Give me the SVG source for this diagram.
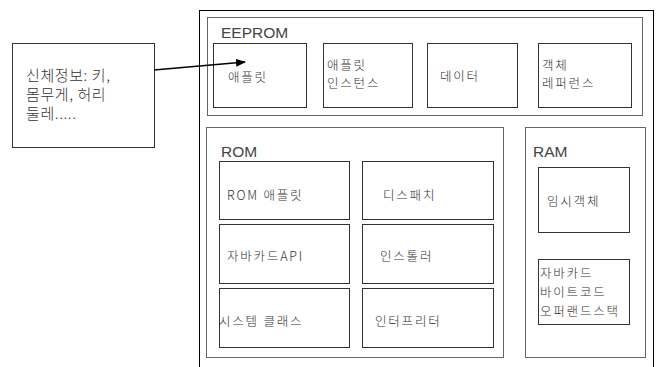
<svg xmlns="http://www.w3.org/2000/svg" width="656" height="367" viewBox="0 0 656 367">
<style>
.sec{fill:#fff;stroke:#666;stroke-width:1}
.box{fill:#fff;stroke:#333;stroke-width:1}
.t{font-family:"Noto Sans CJK KR","Liberation Sans",sans-serif;font-size:12.5px;font-weight:300;letter-spacing:1.8px;fill:#333}
.h{font-family:"Liberation Sans",sans-serif;font-size:15.5px;fill:#444}
.big{font-family:"Noto Sans CJK KR","Liberation Sans",sans-serif;font-size:15px;font-weight:300;letter-spacing:0.6px;fill:#333}
</style>
<defs>
<marker id="ah" markerWidth="10" markerHeight="8" refX="9" refY="4" orient="auto" markerUnits="userSpaceOnUse">
<path d="M0,0 L10,4 L0,8 z" fill="#000"/>
</marker>
</defs>
<rect width="656" height="367" fill="#fff"/>
<g id="outer"><rect x="199.5" y="10.5" width="454" height="370" fill="#fff" stroke="#000"/></g>
<g id="eeprom">
<rect class="sec" x="207.5" y="17.5" width="435" height="98"/>
<text class="h" x="221" y="38">EEPROM</text>
</g>
<g id="applet"><rect class="box" x="213.5" y="43.5" width="93" height="64"/><text class="t" x="228" y="82">애플릿</text></g>
<g id="appinst"><rect class="box" x="323.5" y="43.5" width="89" height="64"/><text class="t" x="327" y="70">애플릿</text><text class="t" x="327" y="88">인스턴스</text></g>
<g id="data"><rect class="box" x="427.5" y="43.5" width="90" height="64"/><text class="t" x="440" y="81">데이터</text></g>
<g id="objref"><rect class="box" x="538.5" y="43.5" width="93" height="64"/><text class="t" x="542" y="70">객체</text><text class="t" x="542" y="88">레퍼런스</text></g>
<g id="rom">
<rect class="sec" x="206.5" y="127.5" width="297" height="230"/>
<text class="h" x="221" y="157">ROM</text>
</g>
<g id="romapplet"><rect class="box" x="219.5" y="161.5" width="130" height="58"/><text class="t" x="227" y="200">ROM 애플릿</text></g>
<g id="dispatch"><rect class="box" x="362.5" y="161.5" width="131" height="58"/><text class="t" x="383" y="200">디스패치</text></g>
<g id="jcapi"><rect class="box" x="219.5" y="224.5" width="130" height="59"/><text class="t" x="227" y="261">자바카드API</text></g>
<g id="installer"><rect class="box" x="362.5" y="224.5" width="131" height="59"/><text class="t" x="380" y="261">인스톨러</text></g>
<g id="sysclass"><rect class="box" x="219.5" y="288.5" width="130" height="59"/><text class="t" x="219" y="326">시스템 클래스</text></g>
<g id="interp"><rect class="box" x="362.5" y="288.5" width="131" height="59"/><text class="t" x="375" y="326">인터프리터</text></g>
<g id="ram">
<rect class="sec" x="525.5" y="127.5" width="120" height="230"/>
<text class="h" x="533" y="157">RAM</text>
</g>
<g id="tempobj"><rect class="box" x="538.5" y="167.5" width="91" height="65"/><text class="t" x="547" y="206">임시객체</text></g>
<g id="stack"><rect class="box" x="538.5" y="259.5" width="91" height="65"/><text class="t" x="540" y="278">자바카드</text><text class="t" x="540" y="297">바이트코드</text><text class="t" x="540" y="316">오퍼랜드스택</text></g>
<g id="bodyinfo"><rect class="box" x="12.5" y="43.5" width="142" height="104"/>
<text class="big" x="26" y="81">신체정보: 키,</text><text class="big" x="26" y="100">몸무게, 허리</text><text class="big" x="26" y="119">둘레.....</text></g>
<g id="connectors"><line x1="154" y1="70" x2="245" y2="62" stroke="#000" stroke-width="1.3" marker-end="url(#ah)"/></g>
</svg>
